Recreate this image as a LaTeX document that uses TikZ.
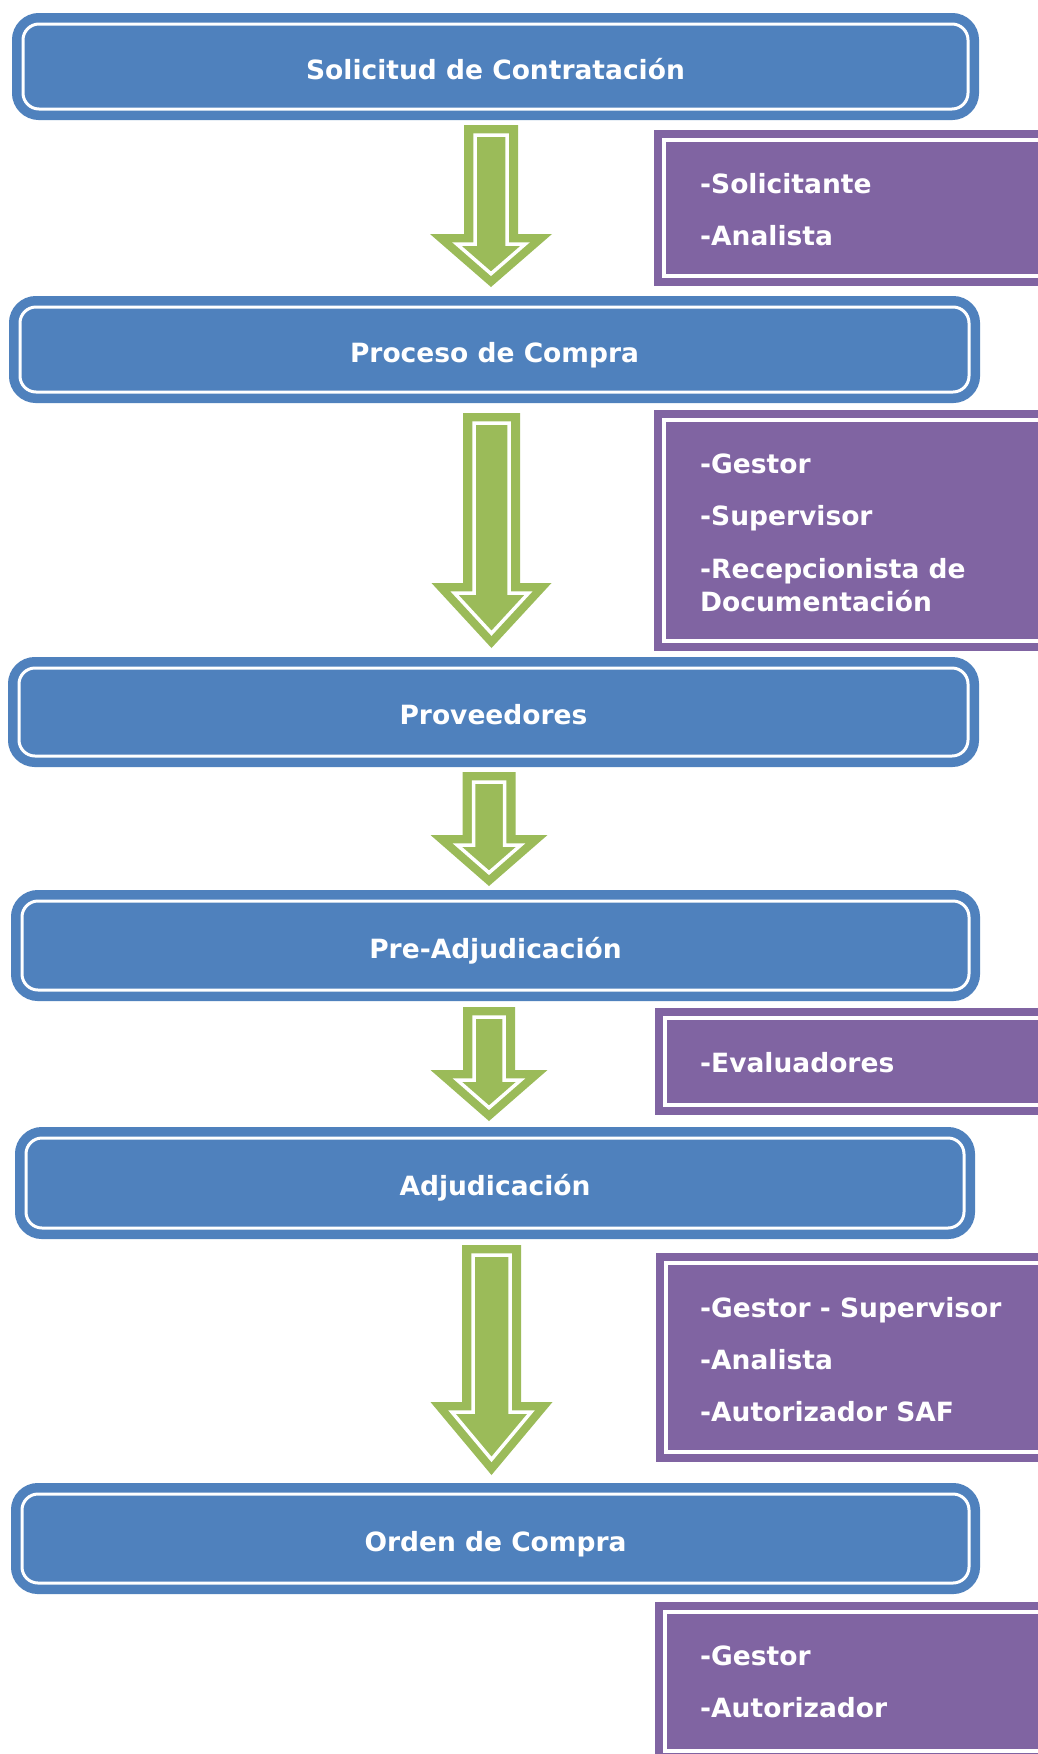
\documentclass[tikz,border=0pt]{standalone}
\usepackage{fontspec}
\setmainfont{DejaVu Sans}
\definecolor{stageblue}{HTML}{4F81BD}
\definecolor{rolepurple}{HTML}{8064A2}
\definecolor{arrowgreen}{HTML}{9BBB59}
\tikzset{
  stagebox/.style={rectangle, rounded corners=16pt, fill=stageblue, draw=white, line width=3pt,
    preaction={draw=stageblue, line width=22pt},
    text=white, font=\bfseries\fontsize{26.5}{31}\selectfont,
    text height=25pt, text depth=0pt, inner sep=0pt},
  rolebox/.style={rectangle, fill=rolepurple, draw=white, line width=4pt,
    preaction={draw=rolepurple, line width=20pt}, inner sep=0pt},
  roletext/.style={anchor=base west, text=white, font=\bfseries\fontsize{26.5}{31}\selectfont, inner sep=0pt},
}
% cx, shaft half-width, head half-width, top, shoulder, tip
\newcommand\blockarrow[6]{%
  \fill[arrowgreen] (#1-#2,#4) -- (#1+#2,#4) -- (#1+#2,#5) -- (#1+#3,#5) -- (#1,#6)
     -- (#1-#3,#5) -- (#1-#2,#5) -- cycle;
  \pgfmathsetmacro\garH{#6-#5}%
  \pgfmathsetmacro\garL{sqrt(#3*#3+\garH*\garH)}%
  \pgfmathsetmacro\garX{(#3*\garH-10*\garL-#3*10)/\garH}%
  \pgfmathsetmacro\garY{(#3*\garH-10*\garL)/#3}%
  \draw[white, line width=3.5pt] (#1-#2+11,#4+10) -- (#1+#2-11,#4+10) -- (#1+#2-11,#5+10)
     -- (#1+\garX,#5+10) -- (#1,#5+\garY) -- (#1-\garX,#5+10) -- (#1-#2+11,#5+10) -- cycle;
}
\begin{document}
\begin{tikzpicture}[x=1pt, y=-1pt]
\clip (0,0) rectangle (1038,1754);
\fill[white] (0,0) rectangle (1038,1754);

% stage boxes
\node[stagebox, minimum width=945pt, minimum height=85pt] (b1) at (495.5,66.5) {Solicitud de Contratación};
\node[stagebox, minimum width=949pt, minimum height=85pt] (b2) at (494.5,349.5) {Proceso de Compra};
\node[stagebox, minimum width=949pt, minimum height=88pt] (b3) at (493.5,712) {Proveedores};
\node[stagebox, minimum width=947pt, minimum height=89pt] (b4) at (495.5,945.5) {Pre-Adjudicación};
\node[stagebox, minimum width=938pt, minimum height=90pt] (b5) at (495,1183) {Adjudicación};
\node[stagebox, minimum width=947pt, minimum height=89pt] (b6) at (495.5,1538.5) {Orden de Compra};

% arrows between stages
\blockarrow{491}{27}{61}{125}{234}{287}
\blockarrow{491.5}{28.5}{60}{413}{583}{648}
\blockarrow{489}{26.5}{58.5}{772}{835}{886}
\blockarrow{489}{26}{58.5}{1007}{1070}{1121}
\blockarrow{491.5}{29.5}{61}{1245}{1402}{1475}

% role boxes
\node[rolebox, minimum width=396pt, minimum height=136pt] (p1) at (862,208) {};
\node[rolebox, minimum width=396pt, minimum height=221pt] (p2) at (862,530.5) {};
\node[rolebox, minimum width=396pt, minimum height=87pt] (p3) at (863,1061.5) {};
\node[rolebox, minimum width=396pt, minimum height=189pt] (p4) at (864,1357.5) {};
\node[rolebox, minimum width=396pt, minimum height=139pt] (p5) at (863,1681.5) {};

% role texts
\node[roletext] (t1a) at (700,193) {-Solicitante};
\node[roletext] (t1b) at (700,245) {-Analista};
\node[roletext] (t2a) at (700,473) {-Gestor};
\node[roletext] (t2b) at (700,525) {-Supervisor};
\node[roletext] (t2c) at (700,578) {-Recepcionista de};
\node[roletext] (t2d) at (700,611) {Documentación};
\node[roletext] (t3a) at (700,1072) {-Evaluadores};
\node[roletext] (t4a) at (700,1317) {-Gestor - Supervisor};
\node[roletext] (t4b) at (700,1369) {-Analista};
\node[roletext] (t4c) at (700,1421) {-Autorizador SAF};
\node[roletext] (t5a) at (700,1665) {-Gestor};
\node[roletext] (t5b) at (700,1717) {-Autorizador};
\end{tikzpicture}
\end{document}
